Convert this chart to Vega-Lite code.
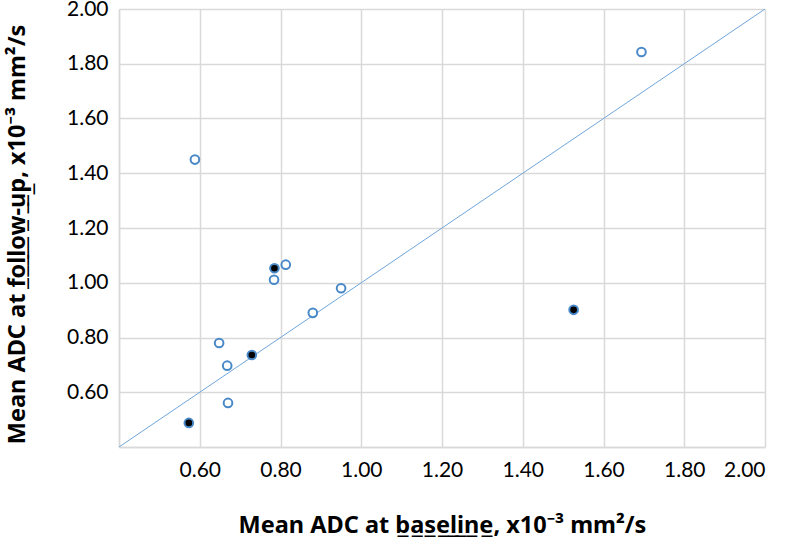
{
  "$schema": "https://vega.github.io/schema/vega-lite/v6.json",
  "width": 646,
  "height": 438,
  "autosize": "none",
  "padding": {"left": 119, "top": 9, "right": 22, "bottom": 91},
  "background": "white",
  "config": {
    "view": {"stroke": null},
    "font": "Lato",
    "axis": {
      "gridColor": "#d9d9d9",
      "gridWidth": 1.5,
      "domainColor": "#d9d9d9",
      "domainWidth": 1.5,
      "ticks": false,
      "labelFont": "Lato",
      "labelFontSize": 21,
      "labelColor": "#000000",
      "titleFont": "Noto Sans",
      "titleFontSize": 23.5,
      "titleFontWeight": "bold",
      "titleColor": "#000000"
    }
  },
  "datasets": {
    "diag": [{"x": 0.4, "y": 0.4}, {"x": 2.0, "y": 2.0}],
    "pts": [
      {"baseline": 0.588, "followup": 1.45, "group": "open"},
      {"baseline": 1.694, "followup": 1.843, "group": "open"},
      {"baseline": 0.813, "followup": 1.066, "group": "open"},
      {"baseline": 0.784, "followup": 1.011, "group": "open"},
      {"baseline": 0.95, "followup": 0.98, "group": "open"},
      {"baseline": 0.88, "followup": 0.89, "group": "open"},
      {"baseline": 0.648, "followup": 0.78, "group": "open"},
      {"baseline": 0.668, "followup": 0.697, "group": "open"},
      {"baseline": 0.670, "followup": 0.561, "group": "open"},
      {"baseline": 0.785, "followup": 1.053, "group": "filled"},
      {"baseline": 0.729, "followup": 0.736, "group": "filled"},
      {"baseline": 0.573, "followup": 0.488, "group": "filled"},
      {"baseline": 1.526, "followup": 0.901, "group": "filled"}
    ]
  },
  "layer": [
    {
      "data": {"name": "diag"},
      "mark": {"type": "line", "color": "#6fa6db", "strokeWidth": 1, "clip": true},
      "encoding": {
        "x": {
          "field": "x", "type": "quantitative",
          "scale": {"domain": [0.4, 2.0], "nice": false, "zero": false},
          "axis": {
            "values": [0.4, 0.6, 0.8, 1.0, 1.2, 1.4, 1.6, 1.8, 2.0],
            "labelExpr": "datum.value < 0.5 ? '' : format(datum.value, '.2f')",
            "labelPadding": 12,
            "title": "Mean ADC at b̲a̲s̲e̲l̲i̲n̲e̲, x10⁻³ mm²/s",
            "titlePadding": 33
          }
        },
        "y": {
          "field": "y", "type": "quantitative",
          "scale": {"domain": [0.4, 2.0], "nice": false, "zero": false},
          "axis": {
            "values": [0.4, 0.6, 0.8, 1.0, 1.2, 1.4, 1.6, 1.8, 2.0],
            "labelExpr": "datum.value < 0.5 ? '' : format(datum.value, '.2f')",
            "labelPadding": 11,
            "title": "Mean ADC at f̲o̲l̲l̲o̲w̲-̲u̲p̲, x10⁻³ mm²/s",
            "titlePadding": 37,
            "titleY": 225
          }
        }
      }
    },
    {
      "data": {"name": "pts"},
      "mark": {"type": "point", "shape": "circle", "size": 75, "strokeWidth": 2, "stroke": "#4a89c8", "opacity": 1},
      "encoding": {
        "x": {"field": "baseline", "type": "quantitative"},
        "y": {"field": "followup", "type": "quantitative"},
        "fill": {
          "field": "group", "type": "nominal",
          "scale": {"domain": ["open", "filled"], "range": ["#ffffff", "#000000"]},
          "legend": null
        }
      }
    }
  ]
}
